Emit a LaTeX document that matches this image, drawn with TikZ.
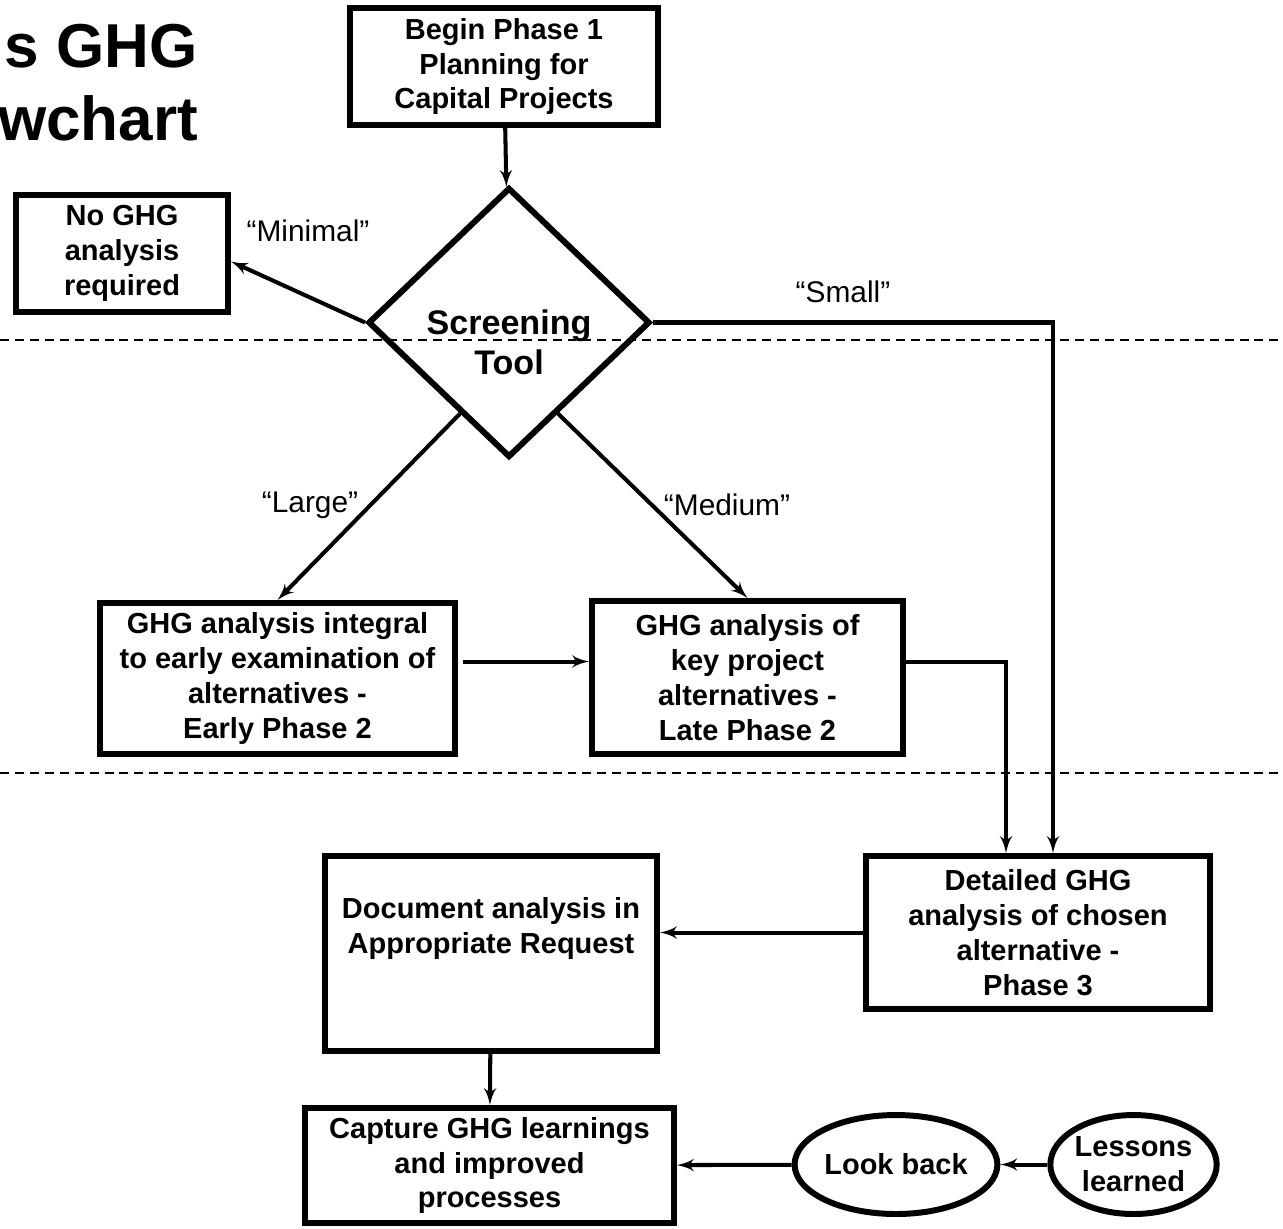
\documentclass[tikz,border=0pt]{standalone}
\usepackage{fontspec}
\setmainfont{Liberation Sans}
\usetikzlibrary{arrows, shapes.geometric, calc}

\begin{document}
\begin{tikzpicture}[x=0.02cm, y=-0.02cm, line width=2.3pt]
	\tikzset {->, >=latex',
		proc/.style={draw, rectangle, line width=3.4pt, inner sep=0pt, align=center, font=\fontsize{16.5}{19.9}\selectfont\bfseries},
		dec/.style={draw, diamond, fill=white, line width=3.4pt, inner sep=0pt},
		dectext/.style={align=center, font=\fontsize{19.4}{22.8}\selectfont\bfseries},
		oval/.style={draw, ellipse, line width=3.4pt, inner sep=0pt, align=center, font=\fontsize{16.5}{19.9}\selectfont\bfseries},
		lbl/.style={font=\fontsize{17}{20}\selectfont},
		ttl/.style={anchor=base east, inner sep=0pt, font=\fontsize{35.3}{41}\selectfont\bfseries},
		sep/.style={-, line width=1.1pt, dash pattern=on 5.1pt off 3.4pt} }
	\useasboundingbox (0,0) rectangle (1283,1228);

	\node[ttl] (t1) at (200,67) {s GHG};
	\node[ttl] (t2) at (200,140) {wchart};

	\node[proc, minimum width=6.16cm, minimum height=2.34cm] (beg) at (504,66.5) {Begin Phase 1\\Planning for\\Capital Projects};
	\node[dec, minimum width=5.64cm, minimum height=5.40cm, label={[dectext, yshift=-0.4cm]center:{Screening\\Tool}}] (scr) at (509,322.5) {};
	\node[proc, minimum width=4.24cm, minimum height=2.34cm] (nog) at (122,253.5) {No GHG\\analysis\\required};
	\node[proc, minimum width=7.10cm, minimum height=3.02cm] (ear) at (277.5,678.5) {GHG analysis integral\\to early examination of\\alternatives -\\Early Phase 2};
	\node[proc, minimum width=6.22cm, minimum height=3.06cm] (lat) at (747.5,677.5) {GHG analysis of\\key project\\alternatives -\\Late Phase 2};
	\node[proc, minimum width=6.88cm, minimum height=3.06cm] (det) at (1038,932.5) {Detailed GHG\\analysis of chosen\\alternative -\\Phase 3};
	\node[proc, minimum width=6.64cm, minimum height=3.90cm, label={[proc, draw=none, yshift=0.5cm]center:{Document analysis in\\Appropriate Request}}] (doc) at (491,953.5) {};
	\node[proc, minimum width=7.38cm, minimum height=2.30cm] (cap) at (489.5,1165.5) {Capture GHG learnings\\and improved\\processes};
	\node[oval, minimum width=3.12cm, minimum height=1.98cm] (lkb) at (896,1164.5) {Look back};
	\node[oval, minimum width=3.22cm, minimum height=1.98cm] (les) at (1133.5,1164.5) {Lessons\\learned};

	\node[lbl] (minimal) at (308,231) {``Minimal''};
	\node[lbl] (small) at (843,292) {``Small''};
	\node[lbl] (large) at (310,505) {``Large''};
	\node[lbl] (medium) at (727,505) {``Medium''};

	\coordinate (scrl) at ($(scr.west)!0.66!(scr.south)$);
	\coordinate (scrr) at ($(scr.east)!0.66!(scr.south)$);

	\path
		(beg) edge (scr)
		(scr.west) edge ([yshift=-0.16cm]nog.east)
		(scrl) edge (ear.north)
		(scrr) edge (lat.north)
		([yshift=0.34cm]ear.east) edge[shorten <=0.1cm] ([yshift=0.34cm]ear.east -| lat.west)
		(det.west) edge (det.west -| doc.east)
		(doc) edge (cap)
		(les) edge (lkb)
		(lkb) edge (cap);
	\draw (scr.east) -| ([xshift=0.3cm]det.north);
	\draw ([yshift=0.32cm]lat.east) -| ([xshift=-0.64cm]det.north);

	\draw[sep] (0,340) -- (1283,340);
	\draw[sep] (0,773) -- (1283,773);
\end{tikzpicture}
\end{document}
